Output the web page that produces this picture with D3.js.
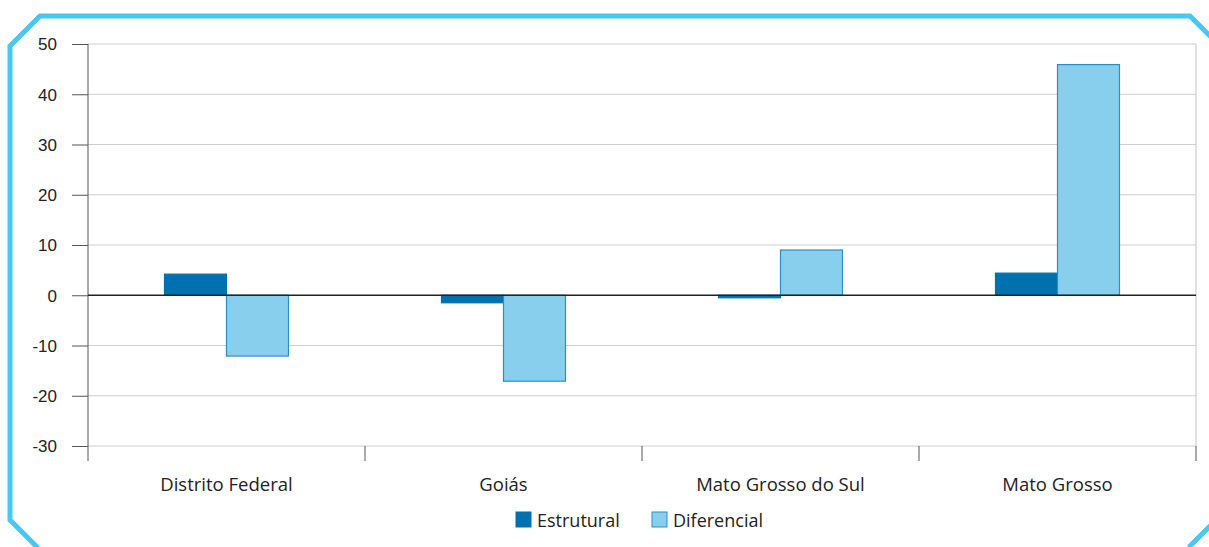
<!DOCTYPE html>
<html>
<head>
<meta charset="utf-8">
<script src="https://cdn.jsdelivr.net/npm/d3@7"></script>
<style>
  body { margin: 0; background: #fff; }
  svg { display: block; font-family: "Open Sans", "Noto Sans", sans-serif; }
</style>
</head>
<body>
<div id="chart"></div>
<script>
const categories = ["Distrito Federal", "Goiás", "Mato Grosso do Sul", "Mato Grosso"];
const seriesNames = ["Estrutural", "Diferencial"];
const estrutural = [4.2, -1.5, -0.5, 4.4];
const diferencial = [-12.1, -17.1, 9.0, 45.9];
const yTicks = [-30, -20, -10, 0, 10, 20, 30, 40, 50];

const W = 1209, H = 547;
const margin = { top: 44, right: 13, bottom: 101, left: 88 };
const width = W - margin.left - margin.right;
const height = H - margin.top - margin.bottom;

const colors = { Estrutural: "#0071af", Diferencial: "#88cfee" };
const strokes = { Estrutural: "#0071af", Diferencial: "#2a8fc8" };

const svg = d3.select("#chart").append("svg")
  .attr("width", W).attr("height", H);

// frame
svg.append("polygon")
  .attr("points", "10,46 40,16 1190,16 1220,46 1220,516 1190,546 1190,560 37,560 37,547 10,520")
  .attr("fill", "none")
  .attr("stroke", "#45c8f4")
  .attr("stroke-width", 5)
  .attr("stroke-linejoin", "miter");

const g = svg.append("g").attr("transform", `translate(${margin.left},${margin.top})`);

const x0 = d3.scaleBand().domain(categories).range([0, width]).paddingInner(0).paddingOuter(0);
const y = d3.scaleLinear().domain([-30, 50]).range([height, 0]);
const barW = 62;
const x1 = d3.scaleBand().domain(seriesNames).range([x0.bandwidth() / 2 - barW, x0.bandwidth() / 2 + barW]);

// gridlines
g.append("g").selectAll("line").data(yTicks.filter(d => d !== 0)).join("line")
  .attr("x1", 0).attr("x2", width)
  .attr("y1", d => y(d)).attr("y2", d => y(d))
  .attr("stroke", "#cfcfcf").attr("stroke-width", 1.2);

// right border
g.append("line").attr("x1", width).attr("x2", width).attr("y1", 0).attr("y2", height)
  .attr("stroke", "#cfcfcf").attr("stroke-width", 1.2);

// y axis
const yAxis = g.append("g").call(d3.axisLeft(y).tickValues(yTicks).tickSize(16).tickPadding(15).tickFormat(d => String(d)));
yAxis.select(".domain").attr("stroke", "#555").attr("d", `M0,0V${height}`);
yAxis.selectAll(".tick line").attr("stroke", "#555");
yAxis.selectAll("text").attr("font-size", 17).attr("fill", "#222").attr("dy", "0.35em");

// bottom ticks at band boundaries
const bounds = categories.map(c => x0(c)).concat([width]);
g.append("g").selectAll("line").data(bounds).join("line")
  .attr("x1", d => d).attr("x2", d => d)
  .attr("y1", height).attr("y2", height + 15)
  .attr("stroke", "#555");

// category labels
g.append("g").selectAll("text").data(categories).join("text")
  .attr("x", d => x0(d) + x0.bandwidth() / 2)
  .attr("y", height + 45)
  .attr("text-anchor", "middle")
  .attr("font-size", 18.5)
  .attr("fill", "#222")
  .text(d => d);

// bars
const rows = categories.map((c, i) => ({ cat: c, vals: [
  { key: "Estrutural", v: estrutural[i] },
  { key: "Diferencial", v: diferencial[i] }
]}));

g.append("g").selectAll("g").data(rows).join("g")
  .attr("transform", d => `translate(${x0(d.cat)},0)`)
  .selectAll("rect").data(d => d.vals).join("rect")
  .attr("x", d => x1(d.key))
  .attr("width", x1.bandwidth())
  .attr("y", d => y(Math.max(0, d.v)))
  .attr("height", d => Math.abs(y(d.v) - y(0)))
  .attr("fill", d => colors[d.key])
  .attr("stroke", d => strokes[d.key])
  .attr("stroke-width", 1.2);

// zero line
g.append("line").attr("x1", 0).attr("x2", width).attr("y1", y(0)).attr("y2", y(0))
  .attr("stroke", "#222").attr("stroke-width", 1.3);

// legend
const legend = svg.append("g");
const legendX = [516, 652];
seriesNames.forEach((s, i) => {
  legend.append("rect")
    .attr("x", legendX[i]).attr("y", 512)
    .attr("width", 15).attr("height", 15)
    .attr("fill", colors[s]).attr("stroke", strokes[s]).attr("stroke-width", 1);
  legend.append("text")
    .attr("x", legendX[i] + 21).attr("y", 526.5)
    .attr("font-size", 18).attr("fill", "#222")
    .text(s);
});
</script>
</body>
</html>
